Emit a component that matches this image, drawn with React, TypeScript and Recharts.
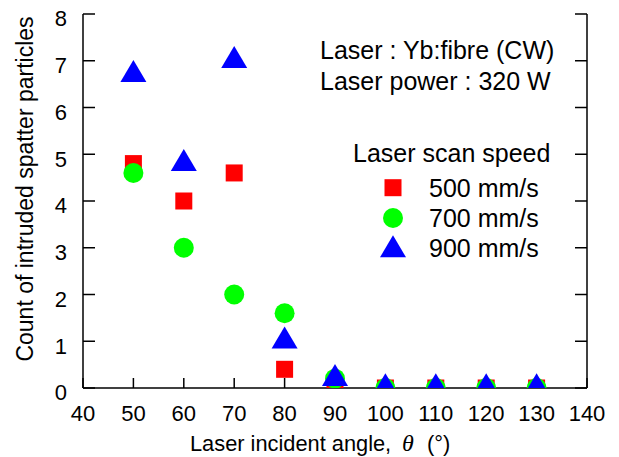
import React from 'react';
import { ScatterChart, Scatter, XAxis, YAxis, Legend, Customized } from 'recharts';

const angles = [50, 60, 70, 80, 90, 100, 110, 120, 130];
const speed500 = [4.8, 4.0, 4.6, 0.4, 0, 0, 0, 0, 0];
const speed700 = [4.6, 3.0, 2.0, 1.6, 0.2, 0, 0, 0, 0];
const speed900 = [6.7, 4.8, 7.0, 1.0, 0.2, 0, 0, 0, 0];
const xTicks = [40, 50, 60, 70, 80, 90, 100, 110, 120, 130, 140];
const yTicks = [0, 1, 2, 3, 4, 5, 6, 7, 8];
const seriesNames = ['500 mm/s', '700 mm/s', '900 mm/s'];
const seriesColors = ['#ff0000', '#00ff00', '#0000ff'];
const legendTitle = 'Laser scan speed';
const noteLines = ['Laser : Yb:fibre (CW)', 'Laser power : 320 W'];
const xTitle = 'Laser incident angle,';
const yTitle = 'Count of intruded spatter particles';

const toPoints = (vals: number[]) => angles.map((a, i) => ({ x: a, y: vals[i] }));
const data500 = toPoints(speed500);
const data700 = toPoints(speed700);
const data900 = toPoints(speed900);

const FONT = '"Liberation Sans", Arial, sans-serif';
const FS = 22;
const FS_NOTE = 25;

const Square = (p: any) => (
  <rect x={p.cx - 8.5} y={p.cy - 8.5} width={17} height={17} fill={seriesColors[0]} />
);
const Dot = (p: any) => <circle cx={p.cx} cy={p.cy} r={10} fill={seriesColors[1]} />;
const Tri = (p: any) => (
  <polygon
    points={`${p.cx},${p.cy - 14.7} ${p.cx + 13},${p.cy + 7.3} ${p.cx - 13},${p.cy + 7.3}`}
    fill={seriesColors[2]}
  />
);

const marker = (i: number, cx: number, cy: number) => {
  if (i === 0) return <Square cx={cx} cy={cy} />;
  if (i === 1) return <Dot cx={cx} cy={cy} />;
  return <Tri cx={cx} cy={cy} />;
};

const YTick = (p: any) => (
  <text x={p.x} y={p.y + 4.5} dy="0.355em" textAnchor="end" fontSize={FS} fontFamily={FONT} fill="#000">
    {p.payload.value}
  </text>
);
const XTick = (p: any) => (
  <text x={p.x} y={p.y} dy="0.71em" textAnchor="middle" fontSize={FS} fontFamily={FONT} fill="#000">
    {p.payload.value}
  </text>
);

const Notes = () => (
  <g fontFamily={FONT} fill="#000">
    {noteLines.map((t, i) => (
      <text key={t} x={320} y={59 + i * 31} fontSize={FS_NOTE}>{t}</text>
    ))}
    <text x={190} y={451} fontSize={21.8}>
      {xTitle}
      <tspan x={402} fontStyle="italic" fontFamily='"Liberation Serif", serif' fontSize={24}>θ</tspan>
      <tspan x={427}>(°)</tspan>
    </text>
    <text x={33} y={189} fontSize={23} textAnchor="middle" transform="rotate(-90 33 189)">{yTitle}</text>
  </g>
);

const LegendBox = (props: any) => {
  const payload = props.payload || [];
  return (
    <svg width={240} height={140} style={{ overflow: 'visible', position: 'absolute', left: 0, top: 0 }}>
      <g fontFamily={FONT} fontSize={FS_NOTE} fill="#000">
        <text x={13} y={31.7}>{legendTitle}</text>
        {payload.map((e: any, i: number) => {
          const cy = [57.7, 88, 120][i];
          const base = [66.7, 96.7, 127][i];
          return (
            <g key={i}>
              {marker(i, 53, cy)}
              <text x={89} y={base}>{e.value}</text>
            </g>
          );
        })}
      </g>
    </svg>
  );
};

const axisStroke = { stroke: '#000', strokeWidth: 1.5 };

export default function App() {
  return (
    <div style={{ position: 'absolute', left: 0, top: 0, background: '#fff' }}>
      <ScatterChart width={619} height={457} margin={{ top: 14, right: 0, bottom: 0, left: 0 }}>
        <XAxis
          xAxisId="b"
          type="number"
          dataKey="x"
          domain={[40, 140]}
          ticks={xTicks}
          allowDataOverflow
          height={69}
          tickSize={-10}
          tickMargin={27}
          axisLine={axisStroke}
          tickLine={axisStroke}
          tick={<XTick />}
          interval={0}
        />
        <XAxis
          xAxisId="t"
          orientation="top"
          type="number"
          dataKey="x"
          domain={[40, 140]}
          ticks={xTicks}
          allowDataOverflow
          height={0}
          tickSize={-11}
          axisLine={axisStroke}
          tickLine={axisStroke}
          tickFormatter={() => ''}
          interval={0}
        />
        <YAxis
          yAxisId="l"
          type="number"
          dataKey="y"
          domain={[0, 8]}
          ticks={yTicks}
          allowDataOverflow
          width={83}
          tickSize={-12}
          tickMargin={28}
          axisLine={axisStroke}
          tickLine={axisStroke}
          tick={<YTick />}
          interval={0}
        />
        <YAxis
          yAxisId="r"
          orientation="right"
          type="number"
          dataKey="y"
          domain={[0, 8]}
          ticks={yTicks}
          allowDataOverflow
          width={32}
          tickSize={-12}
          axisLine={axisStroke}
          tickLine={axisStroke}
          tickFormatter={() => ''}
          interval={0}
        />
        <Scatter name={seriesNames[0]} data={data500} xAxisId="b" yAxisId="l" fill={seriesColors[0]} shape={<Square />} isAnimationActive={false} />
        <Scatter name={seriesNames[1]} data={data700} xAxisId="b" yAxisId="l" fill={seriesColors[1]} shape={<Dot />} isAnimationActive={false} />
        <Scatter name={seriesNames[2]} data={data900} xAxisId="b" yAxisId="l" fill={seriesColors[2]} shape={<Tri />} isAnimationActive={false} />
        <Legend
          content={<LegendBox />}
          wrapperStyle={{ position: 'absolute', left: 340, top: 130, width: 0, height: 0, bottom: 'auto', right: 'auto', overflow: 'visible' }}
        />
        <Customized component={Notes} />
      </ScatterChart>
    </div>
  );
}
